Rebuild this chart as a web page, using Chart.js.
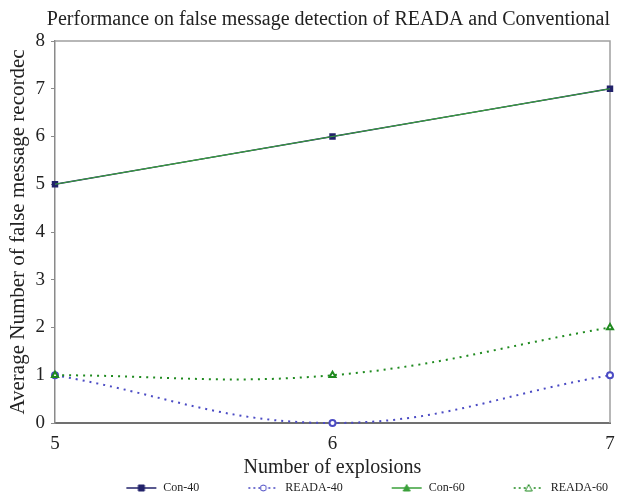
<!DOCTYPE html>
<html>
<head>
<meta charset="utf-8">
<script src="https://cdn.jsdelivr.net/npm/chart.js@4"></script>
<style>
  html, body { margin: 0; padding: 0; background: #fff; }
  #wrap { width: 629px; height: 495px; }
</style>
</head>
<body>
<div id="wrap"><canvas id="chart" width="629" height="495"></canvas></div>
<script>
// data
const explosions = [5, 6, 7];
const con40 = [5, 6, 7];
const reada40 = [1, 0, 1];
const con60 = [5, 6, 7];
const reada60 = [1, 1, 2];
const yTicks = [0, 1, 2, 3, 4, 5, 6, 7, 8];

const FONT = "'Liberation Serif', 'DejaVu Serif', serif";
const NAVY = '#22226a';
const BLUE = '#4b4bc4';
const GREEN = '#3aa03a';
const DGREEN = '#1f8a1f';

const toPts = (vals) => explosions.map((x, i) => ({ x: x, y: vals[i] }));

// legend icons: blank space on the left, then line + marker
const ICON_W = 78;
function legendIcon(color, dashed, marker, fill) {
  const c = document.createElement('canvas');
  c.width = ICON_W; c.height = 10;
  const g = c.getContext('2d');
  const x0 = ICON_W - 32;
  g.strokeStyle = color;
  g.lineWidth = 1.5;
  if (dashed) g.setLineDash([2, 3]);
  g.beginPath(); g.moveTo(x0 + 1, 5); g.lineTo(x0 + 31, 5); g.stroke();
  g.setLineDash([]);
  g.fillStyle = fill ? color : '#fff';
  g.lineWidth = 1;
  g.beginPath();
  const cx = x0 + 16;
  if (marker === 'rect') g.rect(cx - 3, 2, 6, 6);
  else if (marker === 'circle') g.arc(cx, 5, 3, 0, Math.PI * 2);
  else { g.moveTo(cx, 1.5); g.lineTo(cx + 3.5, 8); g.lineTo(cx - 3.5, 8); g.closePath(); }
  g.fill(); g.stroke();
  return c;
}

// top + right frame of the plot area
const frame = {
  id: 'frame',
  beforeDatasetsDraw(chart) {
    const { ctx, chartArea: a } = chart;
    ctx.save();
    ctx.strokeStyle = '#a0a0a0';
    ctx.lineWidth = 1.5;
    ctx.beginPath();
    ctx.moveTo(a.left, a.top); ctx.lineTo(a.right, a.top); ctx.lineTo(a.right, a.bottom);
    ctx.stroke();
    ctx.restore();
  }
};

new Chart(document.getElementById('chart'), {
  type: 'line',
  data: {
    datasets: [
      {
        label: 'Con-40', data: toPts(con40), borderColor: NAVY, backgroundColor: NAVY,
        borderWidth: 1.5, pointStyle: 'rect', pointRadius: 3.5, tension: 0.4, order: 2
      },
      {
        label: 'READA-40', data: toPts(reada40), borderColor: BLUE, backgroundColor: '#fff',
        borderWidth: 2, borderDash: [2, 5], pointStyle: 'circle', pointRadius: 3, tension: 0.4, order: 3
      },
      {
        label: 'Con-60', data: toPts(con60), borderColor: GREEN, backgroundColor: GREEN,
        borderWidth: 1.2, pointStyle: 'triangle', pointRadius: 0, tension: 0.4, order: 1
      },
      {
        label: 'READA-60', data: toPts(reada60), borderColor: DGREEN, backgroundColor: '#fff',
        borderWidth: 2, borderDash: [2, 5], pointStyle: 'triangle', pointRadius: 3.5, tension: 0.4, order: 0
      }
    ]
  },
  options: {
    responsive: false,
    animation: false,
    // negative bottom padding pulls the (tall) legend box down to the canvas edge
    layout: { padding: { left: 0, right: 19, top: 0, bottom: -9 } },
    elements: { point: { borderWidth: 1 } },
    clip: false,
    scales: {
      x: {
        type: 'linear', min: 5, max: 7,
        afterBuildTicks: (s) => { s.ticks = explosions.map(v => ({ value: v })); },
        afterFit: (s) => { s.height = 57; },
        border: { color: '#707070', width: 2 },
        grid: { display: false },
        ticks: { color: '#222', font: { family: FONT, size: 19 }, padding: 2 },
        title: { display: true, text: 'Number of explosions', color: '#222', font: { family: FONT, size: 20 }, padding: { top: 0, bottom: 0 } }
      },
      y: {
        min: 0, max: 8,
        afterBuildTicks: (s) => { s.ticks = yTicks.map(v => ({ value: v })); },
        afterFit: (s) => { s.width = 55; },
        border: { color: '#8a8a8a', width: 1.5 },
        grid: { drawOnChartArea: false, tickLength: 4, color: '#8a8a8a' },
        ticks: { color: '#222', font: { family: FONT, size: 19 }, padding: 6 },
        title: { display: true, text: 'Average Number of false message recordec', color: '#222', font: { family: FONT, size: 21 }, padding: { top: 6, bottom: 0 } }
      }
    },
    plugins: {
      title: {
        display: true,
        text: 'Performance on false message detection of READA and Conventional',
        color: '#222', font: { family: FONT, size: 20, weight: 'normal' },
        align: 'end', padding: { top: 8, bottom: 9 }
      },
      legend: {
        position: 'bottom',
        align: 'end',
        labels: {
          font: { family: FONT, size: 12 }, color: '#222',
          usePointStyle: true, pointStyleWidth: ICON_W, padding: 2,
          generateLabels: (chart) => [
            legendIcon(NAVY, false, 'rect', true),
            legendIcon(BLUE, true, 'circle', false),
            legendIcon(GREEN, false, 'triangle', true),
            legendIcon(DGREEN, true, 'triangle', false)
          ].map((icon, i) => ({
            text: chart.data.datasets[i].label, pointStyle: icon, datasetIndex: i,
            fontColor: '#222', lineWidth: 0, strokeStyle: 'transparent', fillStyle: 'transparent'
          }))
        }
      },
      tooltip: { enabled: false }
    }
  },
  plugins: [frame]
});
</script>
</body>
</html>
